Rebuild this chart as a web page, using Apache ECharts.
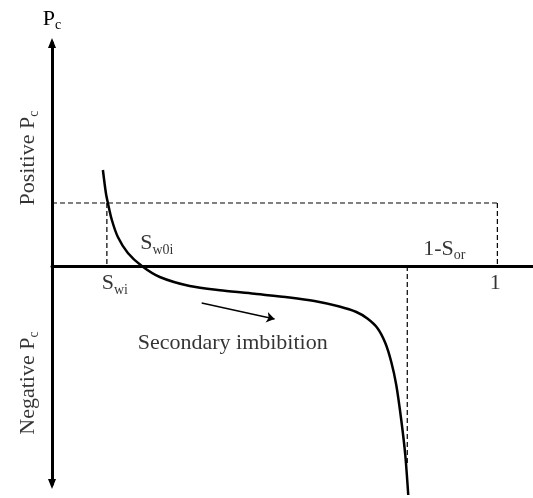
<!DOCTYPE html>
<html>
<head>
<meta charset="utf-8">
<script src="https://cdn.jsdelivr.net/npm/echarts@6/dist/echarts.min.js"></script>
<style>
  html, body { margin: 0; padding: 0; background: #fff; }
  #chart { width: 533px; height: 498px; }
</style>
</head>
<body>
<div id="chart"></div>
<script>
// Capillary pressure Pc against water saturation Sw along secondary imbibition
const curveSw = [0.1143, 0.121, 0.1255, 0.1344, 0.1479, 0.1703, 0.2017, 0.242, 0.3092, 0.3832,
                 0.4593, 0.5333, 0.5893, 0.6453, 0.6834, 0.7081, 0.7305, 0.7484, 0.7618, 0.773,
                 0.7842, 0.7932, 0.7999];
const curvePc = [2.4, 1.825, 1.575, 1.15, 0.725, 0.325, 0, -0.275, -0.5, -0.6125,
                 -0.7, -0.7875, -0.875, -1.0125, -1.15, -1.3125, -1.55, -1.925, -2.4, -2.975,
                 -3.85, -4.725, -5.725];

// Characteristic saturations and guide levels
const swi = 0.1232;          // initial water saturation
const sw0i = 0.2017;         // saturation where Pc crosses zero
const oneMinusSor = 0.7977;  // 1 - residual oil saturation
const swMax = 1;
const pcRef = 1.575;         // Pc level of the dashed reference box
const pcLow = -5.0;          // lower end of the 1-Sor guide

// Direction arrow along the imbibition path
const arrowSw = [0.3361, 0.4997];
const arrowPc = [-0.925, -1.325];

// Texts
const yTitle = 'P{s|c}';
const positiveText = 'Positive P{s|c}';
const negativeText = 'Negative P{s|c}';
const swiText = 'S{s|wi}';
const sw0iText = 'S{s|w0i}';
const sorText = '1-S{s|or}';
const oneText = '1';
const pathText = 'Secondary imbibition';

const FONT = "'Liberation Serif', 'Times New Roman', serif";
const rich = {
  s: { fontSize: 14, lineHeight: 14, padding: [13, 0, 0, 0], fontFamily: FONT, color: '#000' }
};
const dashed = { color: '#000', width: 1.2, type: [5, 3] };

function zip(xs, ys) { return xs.map((x, i) => [x, ys[i]]); }
function guide(points) {
  return { type: 'line', data: points, symbol: 'none', showSymbol: false,
           lineStyle: dashed, silent: true, clip: false, z: 2 };
}
function hiddenAxisParts() {
  return { axisTick: { show: false }, axisLabel: { show: false }, splitLine: { show: false } };
}

const chart = echarts.init(document.getElementById('chart'), null, { renderer: 'canvas' });
chart.setOption({
  animation: false,
  backgroundColor: '#fff',
  grid: { left: 52, top: 43, width: 482, height: 441 },
  xAxis: Object.assign({
    type: 'value', min: 0, max: 1.08,
    axisLine: { onZero: true, lineStyle: { color: '#000', width: 3 } }
  }, hiddenAxisParts()),
  yAxis: Object.assign({
    type: 'value', min: -5.45, max: 5.575,
    name: yTitle, nameLocation: 'end', nameGap: 13,
    nameTextStyle: { fontSize: 22, fontFamily: FONT, color: '#000', rich: rich },
    axisLine: { onZero: true, symbol: ['triangle', 'triangle'], symbolSize: [8, 10],
                lineStyle: { color: '#000', width: 3 } }
  }, hiddenAxisParts()),
  series: [
    guide([[0, pcRef], [swMax, pcRef]]),
    guide([[swMax, pcRef], [swMax, 0]]),
    guide([[swi, pcRef], [swi, 0]]),
    guide([[oneMinusSor, 0], [oneMinusSor, pcLow]]),
    {
      type: 'line', data: zip(curveSw, curvePc), smooth: 0.3, symbol: 'none', showSymbol: false,
      lineStyle: { color: '#000', width: 2.5 }, clip: false, silent: true, z: 3
    },
    {
      type: 'lines', coordinateSystem: 'cartesian2d', symbol: ['none', 'arrow'], symbolSize: 8,
      lineStyle: { color: '#000', width: 1.3, opacity: 1 }, silent: true,
      data: [{ coords: zip(arrowSw, arrowPc) }]
    },
    {
      type: 'scatter', symbolSize: 0, clip: false, silent: true, z: 5,
      label: { show: true, position: 'inside', fontSize: 22, fontFamily: FONT, color: '#000', rich: rich },
      data: [
        { value: [swi, 0], label: { formatter: swiText, offset: [8, 17.5] } },
        { value: [sw0i, 0], label: { formatter: sw0iText, offset: [15, -22.5] } },
        { value: [swMax, 0], label: { formatter: sorText, offset: [-53, -17] } },
        { value: [swMax, 0], label: { formatter: oneText, offset: [-2, 17] } },
        { value: [arrowSw[0], arrowPc[0]], label: { formatter: pathText, offset: [31, 40] } },
        { value: [-0.0537, 2.7], label: { formatter: positiveText, rotate: 90 } },
        { value: [-0.0537, -2.925], label: { formatter: negativeText, rotate: 90 } }
      ]
    }
  ]
});
</script>
</body>
</html>
